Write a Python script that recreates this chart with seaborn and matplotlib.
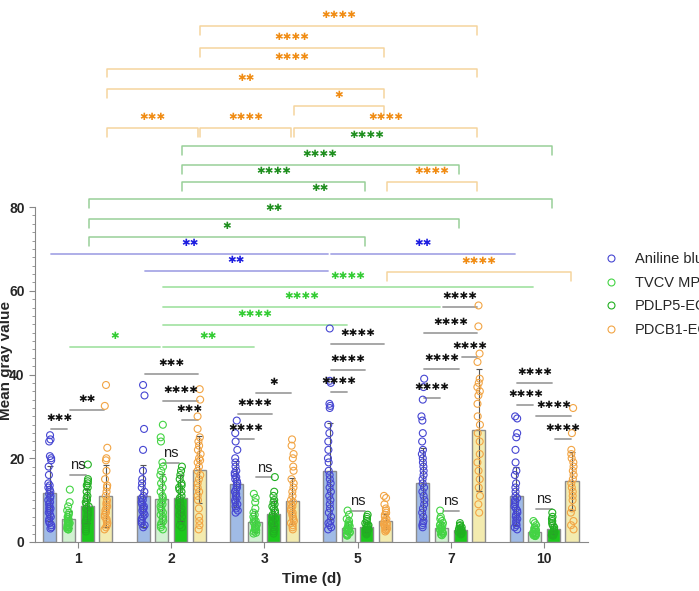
import matplotlib
matplotlib.use("Agg")
import matplotlib.pyplot as plt
import numpy as np
import pandas as pd
import seaborn as sns
from matplotlib.lines import Line2D

days = ["1", "2", "3", "5", "7", "10"]
series = ["Aniline blue", "TVCV MP-EGFP", "PDLP5-EGFP", "PDCB1-EGFP"]

# bar heights and SD
aniline_mean = [11.6, 11.0, 13.8, 17.0, 14.0, 11.0]
aniline_sd = [6.5, 7.5, 5.5, 11.5, 8.5, 7.0]
tvcv_mean = [5.4, 10.2, 4.8, 3.3, 3.3, 2.4]
tvcv_sd = [2.0, 6.0, 2.5, 1.5, 1.5, 1.0]
pdlp5_mean = [8.6, 10.5, 6.7, 3.5, 2.9, 3.1]
pdlp5_sd = [4.0, 5.5, 3.0, 1.2, 0.8, 1.3]
pdcb1_mean = [11.0, 17.2, 9.8, 4.9, 26.7, 14.6]
pdcb1_sd = [7.5, 8.0, 5.5, 1.8, 14.5, 7.0]

# individual points, one list per day
aniline_pts = [
    [25.5, 24.5, 24, 20.5, 20, 19.5, 18, 16, 14, 13.5, 13, 12.5, 12, 11.5, 11, 10.5, 10, 9.5, 9, 8.5, 8, 8, 7.5, 7, 6.5, 6, 5.5, 5, 4.5, 4, 3.5, 3.2],
    [37.5, 35, 27, 22, 17, 15, 14, 13, 12, 11, 10.5, 10, 9.5, 9, 8.5, 8, 8, 7.5, 7, 6.5, 6, 5.5, 5, 4.5, 4, 3.5],
    [29, 26, 24, 22, 20, 19, 18, 17, 16.5, 16, 15.5, 15, 14.5, 14, 13.5, 13, 12.5, 12, 11.5, 11, 10.5, 10, 9.5, 9, 8.5, 8, 7.5, 7],
    [51, 38.5, 38, 33, 32, 32.5, 28, 26, 24, 22, 20, 19, 17, 16, 15, 14, 13, 12, 11, 10, 9, 8, 7, 6, 5, 4.5, 4, 3.5, 3],
    [39, 37, 34, 30, 29, 26, 24, 22, 21, 20, 19, 18, 17, 16, 15, 14, 13, 12, 11, 10, 9, 8, 7, 6, 5, 4.5, 4, 3.5],
    [30, 29.5, 26, 25, 22, 19, 17, 16, 14, 13, 12, 11, 10.5, 10, 9.5, 9, 8.5, 8, 7.5, 7, 6.5, 6, 5.5, 5, 4.5, 4, 3.5, 3],
]
tvcv_pts = [
    [12.5, 9.5, 8.5, 7.5, 7, 6.5, 6, 6, 5.5, 5.5, 5, 5, 4.8, 4.5, 4.5, 4.2, 4, 4, 3.8, 3.5, 3.5, 3.2, 3, 3],
    [28, 25, 24, 19, 18, 17, 16, 15, 14, 13, 12, 11, 10.5, 10, 9.5, 9, 8.5, 8, 7.5, 7, 6.5, 6, 5.5, 5, 4.5, 4, 3.5, 3],
    [11.5, 10.5, 9.5, 8, 7, 6.5, 6, 5.5, 5, 4.8, 4.5, 4.2, 4, 3.8, 3.5, 3.3, 3, 2.8, 2.5, 2.2, 2],
    [7.5, 6.5, 5.5, 5, 4.5, 4.2, 4, 3.8, 3.5, 3.2, 3, 2.8, 2.6, 2.4, 2.2, 2, 1.8, 1.6, 1.5],
    [7.5, 6, 5.5, 5, 4.5, 4.2, 4, 3.8, 3.5, 3.2, 3, 2.8, 2.6, 2.4, 2.2, 2, 1.8, 1.6],
    [5, 4.5, 4, 3.5, 3.2, 3, 2.8, 2.5, 2.3, 2.1, 2, 1.8, 1.7, 1.6, 1.5, 1.4],
]
pdlp5_pts = [
    [18.5, 15, 14.5, 14, 13.5, 13, 12, 11, 10.5, 10, 9.5, 9, 8.5, 8, 7.5, 7, 6.5, 6, 5.5, 5, 4.5, 4, 3.5, 3, 2.5],
    [18, 17, 16, 15, 14, 13.5, 13, 12.5, 12, 11, 10.5, 10, 9.5, 9, 8.5, 8, 7.5, 7, 6.5, 6, 5, 4, 3.5],
    [15.5, 12, 11, 10, 9.5, 9, 8.5, 8, 7.5, 7, 6.5, 6, 5.5, 5, 4.5, 4, 3.5, 3, 2.5, 2],
    [6.5, 6, 5.5, 5, 4.5, 4.2, 4, 3.8, 3.5, 3.2, 3, 2.8, 2.6, 2.4, 2.2, 2, 1.8],
    [4.5, 4, 3.8, 3.5, 3.3, 3.1, 3, 2.8, 2.7, 2.5, 2.4, 2.2, 2, 1.8],
    [7, 6, 5.5, 5, 4.5, 4, 3.5, 3, 2.8, 2.5, 2.2, 2, 1.8, 1.6, 1.5],
]
pdcb1_pts = [
    [37.5, 32.5, 22.5, 20, 19.5, 17, 15, 13.5, 13, 12, 11, 10, 9.5, 9, 8.5, 8, 7.5, 7, 6.5, 6, 5.5, 5, 4.5, 4, 3.5, 3],
    [36.5, 34, 30, 27, 25, 24, 23, 22, 21, 20, 19.5, 19, 18, 17, 16, 15, 14, 13, 12, 11, 10, 8, 6, 5, 4, 3],
    [24.5, 23, 21, 20, 18, 17, 15, 14, 13, 12, 11, 10, 9.5, 9, 8.5, 8, 7.5, 7, 6.5, 6, 5.5, 5, 4.5, 4, 3.5, 3],
    [11, 10.5, 9, 8, 7.5, 7, 6.5, 6, 5.5, 5, 4.8, 4.5, 4.2, 4, 3.8, 3.5, 3.2, 3, 2.8, 2.5],
    [56.5, 51.5, 45, 43, 39, 38, 37, 36, 35, 33, 30, 28, 26, 24, 21, 19, 17, 15, 13, 11, 9, 7],
    [32, 26, 22, 21, 20, 19, 18, 17, 16, 15, 14, 13, 12, 11, 10, 8, 7, 5, 4, 3],
]

# significance brackets: (day, series) start, (day, series) end, height, label, style
brackets = [
    ((1, 3), (4, 3), 123.2, "****", "orange"),
    ((1, 3), (3, 3), 117.9, "****", "orange"),
    ((0, 3), (4, 3), 113.1, "****", "orange"),
    ((0, 3), (3, 3), 108.1, "**", "orange"),
    ((2, 3), (3, 3), 104.1, "*", "orange"),
    ((0, 3), (1, 3), 98.8, "***", "orange"),
    ((1, 3), (2, 3), 98.8, "****", "orange"),
    ((2, 3), (4, 3), 98.8, "****", "orange"),
    ((1, 2), (5, 2), 94.5, "****", "dgreen"),
    ((1, 2), (4, 2), 90.0, "****", "dgreen"),
    ((1, 2), (3, 2), 85.9, "****", "dgreen"),
    ((3, 3), (4, 3), 85.9, "****", "orange"),
    ((0, 2), (5, 2), 81.9, "**", "dgreen"),
    ((0, 2), (4, 2), 77.1, "**", "dgreen"),
    ((0, 2), (3, 2), 72.8, "*", "dgreen"),
    ((0, 0), (3, 0), 68.7, "**", "blue"),
    ((3, 0), (5, 0), 68.7, "**", "blue"),
    ((1, 0), (3, 0), 64.7, "**", "blue"),
    ((3, 3), (5, 3), 64.4, "****", "orange"),
    ((1, 1), (5, 1), 60.9, "****", "lgreen"),
    ((1, 1), (4, 1), 56.1, "****", "lgreen"),
    ((1, 1), (3, 1), 51.8, "****", "lgreen"),
    ((0, 1), (1, 1), 46.5, "*", "lgreen"),
    ((1, 1), (2, 1), 46.5, "**", "lgreen"),
    # within-day comparisons
    ((0, 0), (0, 1), 27.0, "***", "black"),
    ((0, 1), (0, 3), 31.5, "**", "black"),
    ((0, 1), (0, 2), 16.0, "ns", "black"),
    ((1, 0), (1, 3), 40.1, "***", "black"),
    ((1, 1), (1, 3), 33.7, "****", "black"),
    ((1, 2), (1, 3), 29.1, "***", "black"),
    ((1, 1), (1, 2), 18.9, "ns", "black"),
    ((2, 0), (2, 1), 24.6, "****", "black"),
    ((2, 0), (2, 2), 30.5, "****", "black"),
    ((2, 1), (2, 3), 35.6, "*", "black"),
    ((2, 1), (2, 2), 15.5, "ns", "black"),
    ((3, 0), (3, 1), 35.8, "****", "black"),
    ((3, 0), (3, 2), 41.1, "****", "black"),
    ((3, 0), (3, 3), 47.3, "****", "black"),
    ((3, 1), (3, 2), 7.4, "ns", "black"),
    ((4, 0), (4, 1), 34.4, "****", "black"),
    ((4, 0), (4, 2), 41.3, "****", "black"),
    ((4, 2), (4, 3), 44.2, "****", "black"),
    ((4, 0), (4, 3), 49.9, "****", "black"),
    ((4, 1), (4, 3), 56.1, "****", "black"),
    ((4, 1), (4, 2), 7.4, "ns", "black"),
    ((5, 0), (5, 1), 32.7, "****", "black"),
    ((5, 0), (5, 2), 37.9, "****", "black"),
    ((5, 1), (5, 3), 30.1, "****", "black"),
    ((5, 2), (5, 3), 24.6, "****", "black"),
    ((5, 1), (5, 2), 7.9, "ns", "black"),
]

bar_colors = ["#94b9f2", "#ccf6cc", "#00e400", "#fff4a3"]
point_colors = ["#4646d2", "#44d444", "#22b022", "#f2a545"]
styles = {
    "orange": ("#f5d49e", "#f08c14", True),
    "dgreen": ("#98d098", "#1f8f1f", True),
    "lgreen": ("#a8e4a8", "#33cc33", False),
    "blue": ("#a8a8e6", "#1c1ce0", False),
    "black": ("#a0a0a0", "#111111", False),
}

means = [aniline_mean, tvcv_mean, pdlp5_mean, pdcb1_mean]
sds = [aniline_sd, tvcv_sd, pdlp5_sd, pdcb1_sd]
points = [aniline_pts, tvcv_pts, pdlp5_pts, pdcb1_pts]

bar_rows = []
for s, name in enumerate(series):
    for d, day in enumerate(days):
        bar_rows.append({"day": day, "series": name, "value": means[s][d]})
bar_df = pd.DataFrame(bar_rows)

pt_rows = []
for s, name in enumerate(series):
    for d, day in enumerate(days):
        for v in points[s][d]:
            pt_rows.append({"day": day, "series": name, "value": v})
pt_df = pd.DataFrame(pt_rows)

sns.set_style("ticks")
plt.rcParams["font.family"] = ["Liberation Sans", "DejaVu Sans"]

fig = plt.figure(figsize=(6.99, 5.91), dpi=100)
ax = fig.add_axes([0.05, 0.083, 0.791, 0.903])

sns.barplot(data=bar_df, x="day", y="value", hue="series", order=days, hue_order=series,
            palette=bar_colors, width=0.8, gap=0.3, edgecolor="#8c8c8c", linewidth=1,
            errorbar=None, legend=False, ax=ax)

bar_containers = list(ax.containers)
centers = {}
for s, cont in enumerate(bar_containers):
    for d, patch in enumerate(cont):
        cx = patch.get_x() + patch.get_width() / 2
        centers[(d, s)] = cx
        ax.errorbar(cx, means[s][d], yerr=sds[s][d], color="#555555", lw=0.8,
                    capsize=2.5, capthick=0.8, zorder=4)

n_before = len(ax.collections)
np.random.seed(3)
sns.stripplot(data=pt_df, x="day", y="value", hue="series", order=days, hue_order=series,
              palette=point_colors, dodge=True, jitter=0.07, size=5, legend=False,
              ax=ax, zorder=5)
for coll in ax.collections[n_before:]:
    fc = coll.get_facecolor()
    coll.set_edgecolor(fc)
    coll.set_facecolor("none")
    coll.set_linewidth(0.8)

for (d1, s1), (d2, s2), h, label, style in brackets:
    line_c, text_c, ticks = styles[style]
    x1 = centers[(d1, s1)] + 0.015
    x2 = centers[(d2, s2)] - 0.015
    if ticks:
        ax.plot([x1, x1, x2, x2], [h - 2, h, h, h - 2], color=line_c, lw=1.1, zorder=3)
    else:
        ax.plot([x1, x2], [h, h], color=line_c, lw=1.3, zorder=3)
    if label == "ns":
        ax.text((x1 + x2) / 2, h + 0.6, label, ha="center", va="bottom", fontsize=10.5,
                color="#222222", zorder=6)
    else:
        ax.text((x1 + x2) / 2, h + 2.7, "\u2731" * len(label), ha="center", va="center",
                fontsize=7.5, color=text_c, family="DejaVu Sans", zorder=6)

ax.set_ylim(0, 127.5)
ax.set_xlim(-0.46, 5.47)
ax.set_yticks([0, 20, 40, 60, 80])
ax.set_yticks(np.arange(0, 81, 2), minor=True)
ax.tick_params(axis="y", which="minor", length=2.5, color="#888888")
ax.tick_params(axis="y", which="major", length=4, color="#888888")
ax.tick_params(axis="x", length=4, color="#888888")
for lab in ax.get_xticklabels() + ax.get_yticklabels():
    lab.set_fontweight("bold")
    lab.set_fontsize(10)
ax.set_xlabel("Time (d)", fontsize=11, fontweight="bold")
ax.set_ylabel("Mean gray value", fontsize=11, fontweight="bold")
ax.yaxis.set_label_coords(-0.04, 0.34)
ax.spines["left"].set_bounds(0, 80)
ax.spines["left"].set_color("#888888")
ax.spines["bottom"].set_color("#888888")
sns.despine(ax=ax)

handles = [Line2D([], [], marker="o", ls="none", mfc="none", mec=c, ms=5, mew=0.8)
           for c in point_colors]
fig.legend(handles, series, loc="upper left", bbox_to_anchor=(0.835, 0.595),
           frameon=False, fontsize=10.5, handletextpad=0.6, labelspacing=0.65)

fig.savefig("out.png", dpi=100)
